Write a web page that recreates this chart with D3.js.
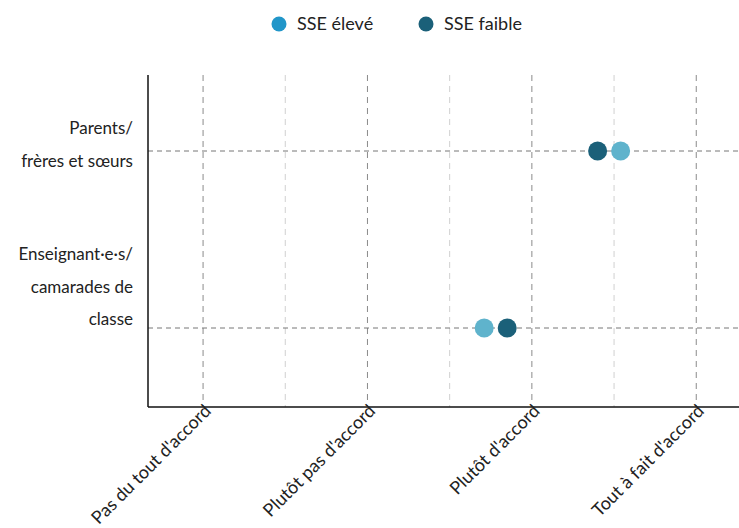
<!DOCTYPE html>
<html lang="fr">
<head>
  <meta charset="UTF-8" />
  <title>SSE</title>
  <script src="https://d3js.org/d3.v7.min.js"></script>
  <style>
    body { margin: 0; background: #fff; font-family: Lato, 'Open Sans', sans-serif; color: #222; }
    svg text { fill: #222; }
  </style>
</head>
<body>
  <div id="chart"></div>
  <script>
    // answer scale (1..4)
    const answerLabels = ["Pas du tout d'accord", "Plutôt pas d'accord", "Plutôt d'accord", "Tout à fait d'accord"];
    const groups = [["Parents/", "frères et sœurs"], ["Enseignant·e·s/", "camarades de", "classe"]];
    const seriesNames = ["SSE élevé", "SSE faible"];
    const sseEleve = [3.54, 2.71];
    const sseFaible = [3.40, 2.85];

    const legendColors = ["#2196c9", "#1b6079"];
    const dotColors = ["#5fb3cc", "#1b6079"];

    const width = 739, height = 528;
    const margin = { top: 75, right: 0, bottom: 121, left: 148 };

    const svg = d3.select("#chart").append("svg")
      .attr("width", width).attr("height", height);

    const x = d3.scaleLinear().domain([0.665, 4.26]).range([margin.left, width - margin.right]);
    const y = d3.scaleLinear().domain([0, 1]).range([151, 328]);

    // vertical grid: major at answers, minor in between
    const major = d3.range(1, 5);
    const minor = [1.5, 2.5, 3.5];
    svg.selectAll(".minor").data(minor).enter().append("line")
      .attr("x1", d => x(d)).attr("x2", d => x(d))
      .attr("y1", margin.top).attr("y2", height - margin.bottom)
      .attr("stroke", "#d0d0d0").attr("stroke-dasharray", "6,5");
    svg.selectAll(".major").data(major).enter().append("line")
      .attr("x1", d => x(d)).attr("x2", d => x(d))
      .attr("y1", margin.top).attr("y2", height - margin.bottom)
      .attr("stroke", "#8a8a8a").attr("stroke-dasharray", "6,5");

    // horizontal dashed lines for each group
    svg.selectAll(".hline").data(groups).enter().append("line")
      .attr("x1", margin.left).attr("x2", width)
      .attr("y1", (d, i) => y(i)).attr("y2", (d, i) => y(i))
      .attr("stroke", "#777").attr("stroke-dasharray", "5,4");

    // axes lines
    svg.append("line")
      .attr("x1", margin.left).attr("x2", margin.left)
      .attr("y1", margin.top).attr("y2", height - margin.bottom)
      .attr("stroke", "#111").attr("stroke-width", 1.5);
    svg.append("line")
      .attr("x1", margin.left).attr("x2", width)
      .attr("y1", height - margin.bottom).attr("y2", height - margin.bottom)
      .attr("stroke", "#111").attr("stroke-width", 1.5);

    // x labels, rotated
    svg.selectAll(".xlab").data(answerLabels).enter().append("text")
      .attr("transform", (d, i) => `translate(${x(i + 1) + 9},${height - margin.bottom + 5}) rotate(-45)`)
      .attr("text-anchor", "end")
      .style("font-size", "18px")
      .text(d => d);

    // y labels (multi-line); first-line baseline offset from the row
    const firstLine = [-17, -68];
    groups.forEach((lines, i) => {
      const t = svg.append("text")
        .attr("text-anchor", "end")
        .style("font-size", "17px");
      lines.forEach((l, j) => {
        t.append("tspan")
          .attr("x", 133)
          .attr("y", y(i) + firstLine[i] + j * 32.5)
          .text(l);
      });
    });

    // dots
    const series = [sseEleve, sseFaible];
    series.forEach((vals, s) => {
      svg.selectAll(".dot" + s).data(vals).enter().append("circle")
        .attr("cx", d => x(d)).attr("cy", (d, i) => y(i))
        .attr("r", 9.5).attr("fill", dotColors[s]);
    });

    // legend
    const legX = [279, 426];
    seriesNames.forEach((n, i) => {
      svg.append("circle").attr("cx", legX[i]).attr("cy", 24).attr("r", 7.5).attr("fill", legendColors[i]);
      svg.append("text").attr("x", legX[i] + 18).attr("y", 24).attr("dy", "0.35em")
        .style("font-size", "18px").text(n);
    });
  </script>
</body>
</html>
